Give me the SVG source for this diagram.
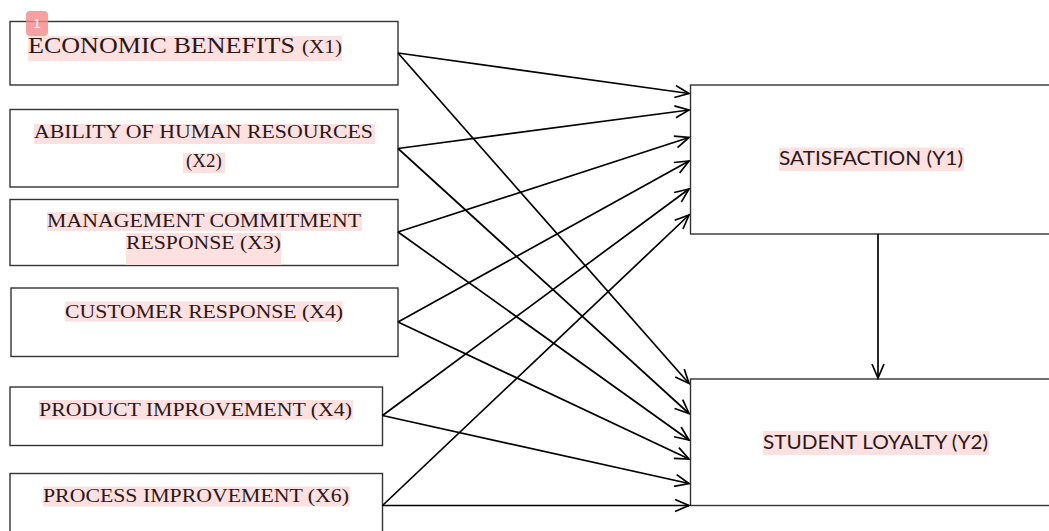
<svg xmlns="http://www.w3.org/2000/svg" width="1049" height="531" viewBox="0 0 1049 531">
<style>
.box{fill:#fff;stroke:#333;stroke-width:1.4}
.hl{fill:#fde1e1}
.t{font-family:"Liberation Serif","Times New Roman",serif;fill:#2a1818;font-size:19px}
.s{font-family:Lato,"Open Sans","Liberation Sans",sans-serif;fill:#2a1818;font-size:20px}
.c{fill:none;stroke:#000;stroke-width:1.7}
</style>
<defs>
<marker id="arr" markerWidth="18" markerHeight="14" refX="15" refY="7" orient="auto" markerUnits="userSpaceOnUse">
<path d="M1,1 L15,7 L1,13" fill="none" stroke="#000" stroke-width="1.7"/>
</marker>
</defs>
<rect width="1049" height="531" fill="#fff"/>

<g id="x1">
<rect class="box" x="10" y="21.5" width="388" height="63.5"/>
<rect class="hl" x="28" y="36" width="314" height="25"/>
<text class="t" x="28" y="53" style="font-size:24px" textLength="267" lengthAdjust="spacingAndGlyphs">ECONOMIC BENEFITS</text>
<text class="t" x="302" y="53" style="font-size:19px" textLength="40" lengthAdjust="spacingAndGlyphs">(X1)</text>
</g>

<g id="x2">
<rect class="box" x="10" y="109.5" width="388" height="77.5"/>
<rect class="hl" x="34" y="124" width="341" height="20"/>
<text class="t" x="34" y="138" textLength="339" lengthAdjust="spacingAndGlyphs">ABILITY OF HUMAN RESOURCES</text>
<rect class="hl" x="183" y="153" width="42" height="20"/>
<text class="t" x="204" y="167" text-anchor="middle">(X2)</text>
</g>

<g id="x3">
<rect class="box" x="10" y="199.5" width="388" height="66"/>
<rect class="hl" x="47" y="212" width="315" height="19"/>
<text class="t" x="47" y="227" textLength="314" lengthAdjust="spacingAndGlyphs">MANAGEMENT COMMITMENT</text>
<rect class="hl" x="126" y="233" width="155" height="32"/>
<text class="t" x="126" y="248.5" textLength="155" lengthAdjust="spacingAndGlyphs">RESPONSE (X3)</text>
</g>

<g id="x4">
<rect class="box" x="11" y="288" width="387" height="68.5"/>
<rect class="hl" x="65" y="301.5" width="278" height="20"/>
<text class="t" x="65" y="318" textLength="278" lengthAdjust="spacingAndGlyphs">CUSTOMER RESPONSE (X4)</text>
</g>

<g id="x5">
<rect class="box" x="10" y="387" width="372.5" height="58.5"/>
<rect class="hl" x="39" y="400" width="314" height="19.5"/>
<text class="t" x="39" y="415.5" textLength="313" lengthAdjust="spacingAndGlyphs">PRODUCT IMPROVEMENT (X4)</text>
</g>

<g id="x6">
<rect class="box" x="10" y="473.5" width="372.5" height="70"/>
<rect class="hl" x="43" y="486.5" width="307" height="20"/>
<text class="t" x="43" y="501.5" textLength="306" lengthAdjust="spacingAndGlyphs">PROCESS IMPROVEMENT (X6)</text>
</g>

<g id="y1">
<rect class="box" x="690.5" y="85" width="400" height="149"/>
<rect class="hl" x="779" y="147.5" width="185" height="23.5"/>
<text class="s" x="779" y="165" textLength="184" lengthAdjust="spacingAndGlyphs">SATISFACTION (Y1)</text>
</g>

<g id="y2">
<rect class="box" x="690.5" y="379" width="400" height="126.5"/>
<rect class="hl" x="763" y="431" width="226" height="24"/>
<text class="s" x="763" y="449" textLength="225" lengthAdjust="spacingAndGlyphs">STUDENT LOYALTY (Y2)</text>
</g>

<g id="badge">
<rect x="26" y="11" width="22" height="25" rx="4" fill="#f08a8a" opacity="0.8"/>
<text x="37" y="28" text-anchor="middle" style="font-family:'Liberation Sans',Arial,sans-serif;font-size:13px;fill:#fff">1</text>
</g>

<g id="connectors">
<line class="c" x1="398" y1="53" x2="689" y2="93.5" marker-end="url(#arr)"/>
<line class="c" x1="398" y1="53" x2="689" y2="383.5" marker-end="url(#arr)"/>
<line class="c" x1="398" y1="148.5" x2="689" y2="110" marker-end="url(#arr)"/>
<line class="c" x1="398" y1="148.5" x2="689" y2="413.5" marker-end="url(#arr)"/>
<line class="c" x1="398" y1="232" x2="689" y2="137.5" marker-end="url(#arr)"/>
<line class="c" x1="398" y1="232" x2="689" y2="440" marker-end="url(#arr)"/>
<line class="c" x1="398" y1="322" x2="689" y2="161" marker-end="url(#arr)"/>
<line class="c" x1="398" y1="322" x2="689" y2="459" marker-end="url(#arr)"/>
<line class="c" x1="382.5" y1="415.5" x2="689" y2="189" marker-end="url(#arr)"/>
<line class="c" x1="382.5" y1="415.5" x2="689" y2="483.5" marker-end="url(#arr)"/>
<line class="c" x1="382.5" y1="505.5" x2="689" y2="215" marker-end="url(#arr)"/>
<line class="c" x1="382.5" y1="505.5" x2="689" y2="505.5" marker-end="url(#arr)"/>
<line class="c" x1="878" y1="234" x2="878" y2="378" marker-end="url(#arr)"/>
</g>
</svg>
